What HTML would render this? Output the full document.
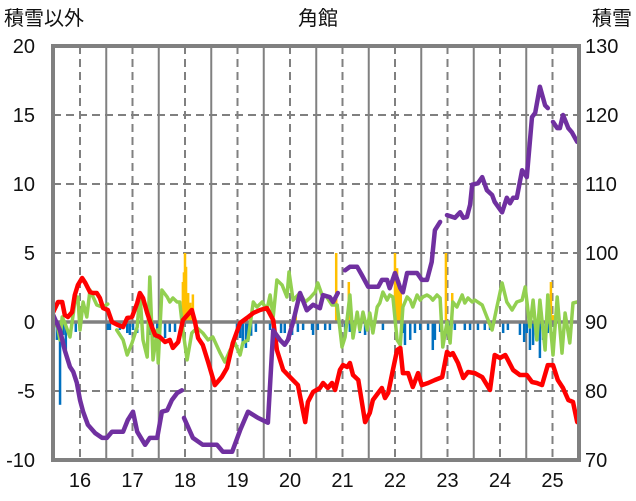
<!DOCTYPE html>
<html><head><meta charset="utf-8"><style>
body{margin:0;background:#fff;}
svg{display:block;font-family:"Liberation Sans","Noto Sans CJK JP",sans-serif;}
</style></head><body>
<svg id="chart" width="636" height="501" viewBox="0 0 636 501"></svg>
<script>
const yearTicks=[16,17,18,19,20,21,22,23,24,25];
const leftTicks=[20,15,10,5,0,-5,-10];
const rightTicks=[130,120,110,100,90,80,70];
const purpleYears=[15.49,15.62,15.71,15.81,15.87,15.94,16.00,16.06,16.15,16.29,16.42,16.51,16.61,16.70,16.82,16.91,17.01,17.09,17.24,17.33,17.47,17.56,17.66,17.75,17.85,17.94,17.96,17.98,18.15,18.34,18.61,18.72,18.90,19.05,19.20,19.39,19.58,19.68,19.81,19.90,19.96,20.06,20.19,20.32,20.44,20.57,20.63,20.76,20.82,20.91,20.98,21.05,21.14,21.28,21.37,21.49,21.68,21.75,21.85,21.90,22.00,22.10,22.15,22.23,22.42,22.51,22.61,22.70,22.76,22.86,22.92,22.99,23.14,23.24,23.30,23.37,23.43,23.47,23.58,23.66,23.75,23.85,23.90,24.04,24.13,24.19,24.25,24.32,24.42,24.51,24.61,24.67,24.76,24.86,24.91,24.96,25.01,25.09,25.14,25.20,25.30,25.37,25.47];
const purpleValues=[91.0,88.8,85.9,83.5,82.8,81.2,78.7,77.0,75.1,73.9,73.2,73.2,74.1,74.1,74.1,75.8,77.0,74.1,72.2,73.2,73.2,77.0,77.2,78.7,79.7,80.1,null,76.1,73.2,72.2,72.2,71.2,71.2,74.3,77.0,76.1,75.4,88.8,87.4,86.7,87.4,90.0,94.2,91.7,92.5,92.0,93.9,93.6,92.9,94.2,null,97.5,98.0,98.0,96.8,95.1,95.1,96.1,96.1,94.9,97.1,94.9,94.3,97.1,97.1,96.1,96.1,98.7,103.3,104.5,null,105.5,105.1,105.9,105.1,105.2,107.0,109.9,110.1,111.0,109.1,108.4,107.4,105.9,108.0,107.2,108.0,108.0,112.0,111.0,119.7,120.3,124.1,121.4,121.0,null,119.0,118.1,118.1,120.0,118.1,117.5,116.1];
const redYears=[15.49,15.58,15.66,15.71,15.77,15.85,15.90,15.96,16.04,16.10,16.19,16.25,16.32,16.38,16.44,16.53,16.61,16.72,16.82,16.90,16.99,17.09,17.14,17.20,17.28,17.37,17.43,17.52,17.62,17.71,17.77,17.87,17.96,18.13,18.19,18.25,18.34,18.44,18.57,18.70,18.80,18.91,19.05,19.18,19.30,19.43,19.56,19.68,19.75,19.87,20.00,20.15,20.29,20.34,20.44,20.57,20.63,20.72,20.80,20.86,20.95,21.01,21.09,21.14,21.20,21.30,21.43,21.52,21.58,21.68,21.75,21.81,21.87,21.96,22.04,22.10,22.15,22.25,22.34,22.44,22.51,22.63,22.76,22.90,22.99,23.05,23.10,23.20,23.30,23.39,23.52,23.66,23.81,23.90,24.00,24.10,24.15,24.25,24.38,24.51,24.61,24.70,24.80,24.91,25.01,25.10,25.20,25.30,25.39,25.47];
const redValues=[0.72,1.45,1.45,0.51,0.36,0.72,1.96,2.68,3.19,2.83,2.17,2.10,2.10,1.74,1.01,0.87,0,-0.22,-0.36,0.29,0.36,1.38,2.10,1.74,0.65,-0.36,-0.94,-1.09,-1.45,-1.30,-1.88,-1.45,0.14,0.87,0,-1.16,-1.67,-2.90,-4.57,-3.99,-3.33,-1.52,-0.07,0.29,0.65,0.87,1.01,0.14,-2.03,-3.48,-3.99,-4.57,-7.25,-5.80,-5.07,-4.78,-4.42,-4.78,-4.42,-4.93,-3.48,-3.12,-3.26,-2.97,-3.84,-4.20,-7.25,-6.59,-5.65,-5.14,-4.78,-5.51,-5.14,-3.48,-2.03,-1.88,-3.70,-3.70,-4.71,-3.70,-4.57,-4.42,-4.20,-3.99,-2.17,-2.39,-2.25,-2.97,-4.06,-3.62,-3.70,-3.99,-4.93,-2.39,-2.61,-2.39,-2.75,-3.48,-3.84,-3.84,-4.35,-4.42,-4.57,-3.12,-3.12,-4.20,-4.78,-5.65,-5.80,-7.25];
const greenYears=[15.49,15.56,15.62,15.66,15.71,15.81,15.90,15.96,16.00,16.06,16.13,16.19,16.25,16.32,16.42,16.53,16.60,16.70,16.82,16.90,16.99,17.09,17.14,17.20,17.28,17.33,17.39,17.47,17.49,17.56,17.66,17.71,17.77,17.85,17.90,17.96,18.04,18.13,18.23,18.34,18.44,18.53,18.67,18.76,18.86,18.95,19.05,19.10,19.20,19.30,19.37,19.47,19.56,19.62,19.68,19.75,19.85,19.94,19.98,20.06,20.19,20.29,20.38,20.48,20.53,20.61,20.70,20.80,20.90,20.99,21.05,21.14,21.20,21.28,21.33,21.39,21.47,21.52,21.58,21.66,21.71,21.77,21.85,21.90,21.96,22.04,22.10,22.15,22.23,22.29,22.34,22.42,22.48,22.53,22.61,22.67,22.72,22.80,22.86,22.91,22.99,23.05,23.10,23.18,23.28,23.33,23.39,23.47,23.52,23.66,23.75,23.85,23.94,24.04,24.13,24.23,24.32,24.42,24.48,24.57,24.63,24.70,24.76,24.86,24.91,25.01,25.09,25.18,25.24,25.33,25.39,25.47];
const greenValues=[-0.36,-0.07,-1.30,0.36,-0.07,-1.09,1.38,1.81,-0.58,1.45,0.36,2.32,1.81,1.23,1.09,1.30,null,-0.58,-1.30,-2.39,-1.52,-0.36,2.10,-1.30,-2.54,3.26,-2.75,-0.58,-2.97,2.32,1.81,1.45,1.74,1.45,1.45,-0.58,-2.75,-0.80,-0.43,-0.80,-1.30,-1.09,-2.25,-2.90,-2.03,-1.52,-2.39,-1.52,-1.30,1.45,1.09,1.45,0.87,1.96,0.36,3.04,2.68,1.81,3.62,1.59,2.10,1.45,1.74,2.17,2.83,1.96,1.81,1.23,1.23,-1.81,-1.09,1.96,-1.16,0.72,-0.58,0.72,-0.58,0.65,-0.80,1.09,1.38,2.17,1.59,1.96,1.81,-1.30,-1.67,1.09,1.81,1.59,1.09,1.96,1.59,1.81,1.96,1.81,1.59,1.96,1.74,-1.81,0,-1.52,1.45,1.09,1.96,1.38,1.74,1.45,1.59,1.23,0.36,-0.58,1.09,2.83,1.45,0.87,1.45,1.59,2.54,-0.36,1.59,-1.30,1.59,-2.03,1.96,-2.39,1.81,-2.25,0.65,-1.52,1.38,1.45];
const barYears=[15.50,15.56,15.62,15.68,15.73,15.92,16.53,16.57,16.76,16.90,16.95,17.01,17.09,17.18,17.33,17.39,17.47,17.52,17.62,17.71,17.81,17.96,17.98,18.00,18.02,18.04,18.06,18.10,18.15,18.99,19.05,19.10,19.16,19.20,19.26,19.35,19.62,19.83,19.90,20.04,20.11,20.15,20.25,20.42,20.44,20.53,20.67,20.76,20.88,20.95,21.05,21.12,21.14,21.33,21.43,21.56,21.77,22.00,22.04,22.08,22.11,22.15,22.19,22.29,22.38,22.48,22.63,22.72,22.76,22.86,22.97,23.01,23.05,23.09,23.14,23.33,23.43,23.58,23.71,23.81,24.06,24.15,24.38,24.46,24.51,24.57,24.63,24.69,24.76,24.82,24.91,24.97,25.01,25.04,25.14];
const barValues=[-0.58,-1.30,-6.0,-0.94,-2.03,-0.72,-0.58,-0.58,-0.58,-0.80,-0.94,-0.58,-0.80,-0.58,-0.94,-1.16,-2.03,-1.16,-1.16,-0.72,-0.72,2.9,3.6,5.0,4.0,1.9,2.1,1.4,2.0,-0.94,-1.16,-1.67,-1.88,-1.45,-1.0,-0.72,-0.58,-0.8,-0.8,-0.94,1.0,-0.72,-0.58,-0.58,-0.94,-0.58,-0.58,-0.58,5.0,-0.58,-0.94,2.9,-0.72,-0.8,-0.94,-0.58,-0.58,5.0,3.9,3.0,2.3,-0.8,-1.67,-1.30,-0.8,-0.58,-0.58,-2.03,-1.30,-0.72,5.0,-0.94,-1.30,2.1,-0.58,-0.58,-0.58,-0.58,-0.58,-0.58,-0.8,-0.58,-0.94,-1.45,-0.8,-2.03,-1.67,-1.30,-2.61,-1.30,-0.8,2.9,0.5,-0.8,-0.58];

const svg=document.getElementById('chart');
const NS='http://www.w3.org/2000/svg';
const L=53,R=579,T=46,B=460;
const X=t=>80+(t-16)*52.5;
const YL=v=>T+(20-v)*(B-T)/30;
const YR=v=>T+(130-v)*(B-T)/60;
function mk(tag,attrs,parent){const e=document.createElementNS(NS,tag);for(const k in attrs)e.setAttribute(k,attrs[k]);(parent||svg).appendChild(e);return e;}

const grid=mk('g',{});


[15,10,5,-5].forEach(v=>{const l=mk('line',{x1:L,x2:R,y1:YL(v),y2:YL(v),stroke:'#808080','stroke-width':2,'stroke-dasharray':'8,5'},grid);

});
yearTicks.forEach(y=>{const x=X(y);
const d=mk('line',{x1:x,x2:x,y1:T,y2:B,stroke:'#808080','stroke-width':2,'stroke-dasharray':'8,5'},grid);


const sx=x+26.25;if(sx<R-2){const s=mk('line',{x1:sx,x2:sx,y1:T,y2:B,stroke:'#808080','stroke-width':2},grid);

}
});

const bars=mk('g',{});


barYears.forEach((t,i)=>{const v=barValues[i];const y0=YL(0),y1=YL(v);
const r=mk('rect',{x:X(t)-1.25,y:Math.min(y0,y1),width:2.5,height:Math.abs(y1-y0),fill:v>=0?'#ffc000':'#0070c0'},bars);

});

const zero=mk('line',{x1:L,x2:R,y1:YL(0),y2:YL(0),stroke:'#808080','stroke-width':3.5});



function line(xs,vs,yf,color,w,name){let d='',pen=false;
xs.forEach((t,i)=>{const v=vs[i];if(v===null){pen=false;return;}d+=(pen?'L':'M')+X(t).toFixed(1)+','+yf(v).toFixed(1);pen=true;});
const p=mk('path',{d:d,fill:'none',stroke:color,'stroke-width':w,'stroke-linejoin':'round','stroke-linecap':'round'});

}
line(greenYears,greenValues,YL,'#92d050',3.5,'green-line');
line(redYears,redValues,YL,'#ff0000',4.5,'red-line');
line(purpleYears,purpleValues,YR,'#7030a0',4.5,'purple-snow-line');

const fr=mk('rect',{x:L,y:T,width:R-L,height:B-T,fill:'none',stroke:'#808080','stroke-width':4});



leftTicks.forEach(v=>{const t=mk('text',{x:35,y:YL(v)+7,'text-anchor':'end','font-size':20,fill:'#111'});t.textContent=v;

});
rightTicks.forEach(v=>{const t=mk('text',{x:585,y:YR(v)+7,'font-size':20,fill:'#111'});t.textContent=v;

});
yearTicks.forEach(y=>{const t=mk('text',{x:X(y),y:487,'text-anchor':'middle','font-size':20,fill:'#111'});t.textContent=y;

});
[['積雪以外',4,'start','left-axis-title'],['角館',318,'middle','chart-title'],['積雪',632,'end','right-axis-title']].forEach(a=>{
const t=mk('text',{x:a[1],y:25,'text-anchor':a[2],'font-size':20,fill:'#111'});t.textContent=a[0];

});
</script>
</body></html>
